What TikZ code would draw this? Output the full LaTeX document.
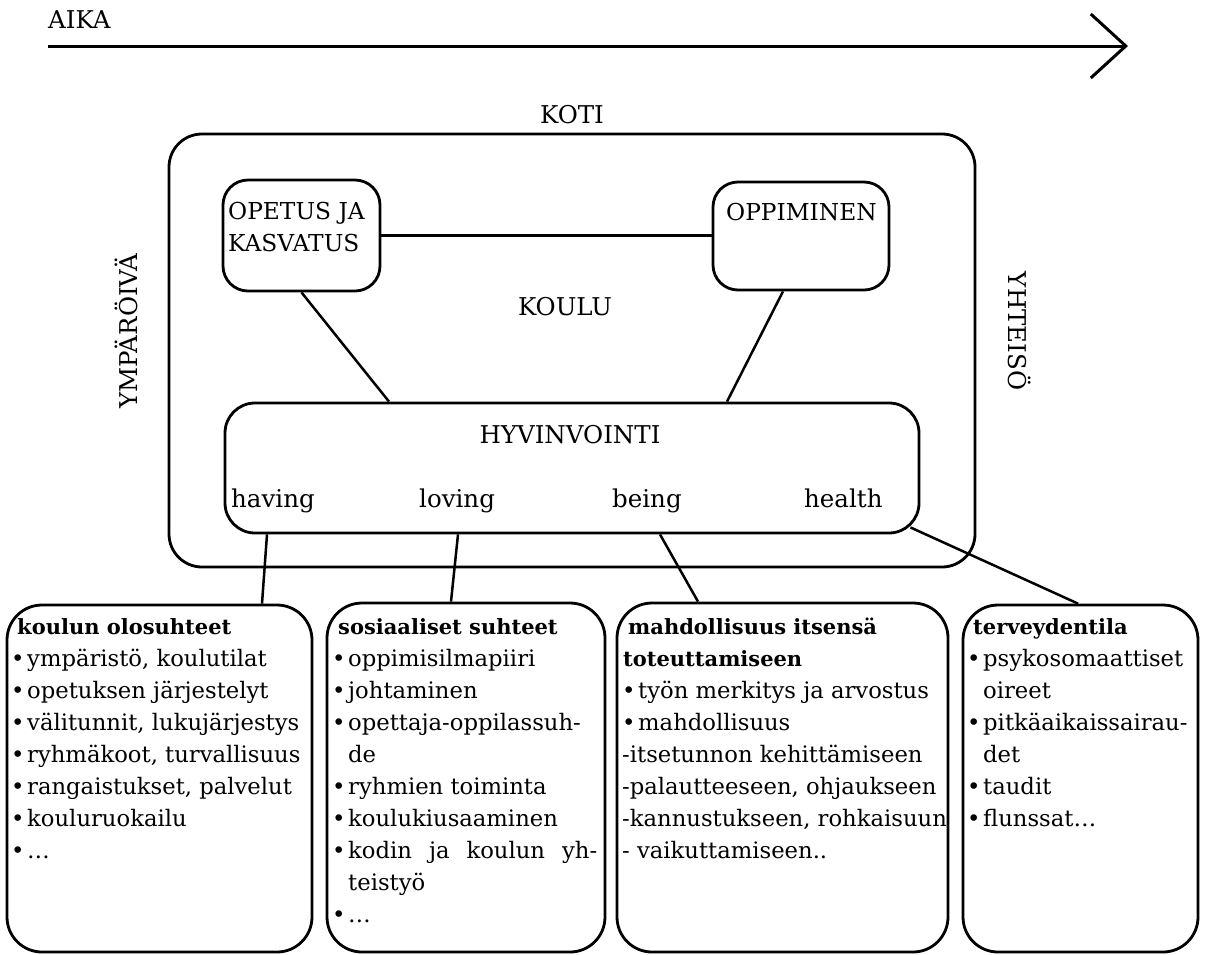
\documentclass[tikz,border=0pt]{standalone}
\usepackage{fontspec}
\setmainfont{DejaVu Serif}
\usetikzlibrary{arrows.meta,calc}
\newcommand\bul{\makebox[16pt][l]{\textbullet}}
\newcommand\ind{\hspace*{16pt}}
\tikzset{
  rbox/.style={draw, line width=2.8pt, rectangle, inner sep=0pt},
  conn/.style={line width=2.5pt},
  lbl/.style={inner sep=0pt, font=\fontsize{24.5}{32}\selectfont},
  lab/.style={lbl, anchor=base west},
  boxlab/.style={lab, font=\fontsize{23.3}{32}\selectfont},
  txt/.style={inner sep=0pt, anchor=base west, font=\fontsize{22.7}{32}\selectfont},
  ttl/.style={txt, font=\fontsize{21}{32}\selectfont\bfseries},
}
\begin{document}
\begin{tikzpicture}[x=1pt,y=-1pt]
\useasboundingbox (0,0) rectangle (1206,954);
\fill[white] (0,0) rectangle (1206,954);

% time axis
\node[lab] (aika) at (48,28) {AIKA};
\coordinate (t0) at (48,46);
\coordinate (t1) at (1128,46);
\draw[line width=3pt, -{Straight Barb[length=35pt,width=64pt]}] (t0) -- (t1);

% outer frame
\node[lbl, anchor=base] (kotit) at (572,123) {KOTI};
\node[rbox, rounded corners=33pt, minimum width=806pt, minimum height=433pt] (koti) at (572,350.5) {};
\node[lbl, rotate=90] (ymp) at (126,331) {YMPÄRÖIVÄ};
\node[lbl, rotate=-90] (yht) at (1020,331) {YHTEISÖ};
\node[lbl, anchor=base] (koulu) at (565,315) {KOULU};

% inner boxes
\node[rbox, rounded corners=25pt, minimum width=157pt, minimum height=111pt] (opetus) at (301.5,235.5) {};
\node[boxlab] (opet1) at (228,219) {OPETUS JA};
\node[boxlab] (opet2) at (228,251) {KASVATUS};
\node[rbox, rounded corners=25pt, minimum width=176pt, minimum height=108pt] (oppi) at (801,236) {};
\node[boxlab] (oppit) at (726,220) {OPPIMINEN};
\node[rbox, rounded corners=30pt, minimum width=694pt, minimum height=130pt] (hyv) at (572,468) {};
\node[lbl, anchor=base] (hyvt) at (570,443) {HYVINVOINTI};
\node[lab] (having) at (231,507) {having};
\node[lab] (loving) at (419,507) {loving};
\node[lab] (being) at (612,507) {being};
\node[lab] (health) at (804,507) {health};

% bottom boxes
\node[rbox, rounded corners=35pt, minimum width=305pt, minimum height=347pt] (b1) at (159.5,778.5) {};
\node[rbox, rounded corners=35pt, minimum width=278pt, minimum height=349pt] (b2) at (466,777.5) {};
\node[rbox, rounded corners=35pt, minimum width=331pt, minimum height=349pt] (b3) at (782.5,777.5) {};
\node[rbox, rounded corners=35pt, minimum width=235pt, minimum height=347pt] (b4) at (1080.5,778.5) {};

% connectors
\draw[conn] (opetus.east) -- (oppi.west |- opetus.east);
\draw[conn] (opetus.south) -- (hyv.north -| 389,0);
\draw[conn] (oppi.south -| 783,0) -- (hyv.north -| 727,0);
\draw[conn] (hyv.south -| 267,0) -- (b1.north -| 262,0);
\draw[conn] (hyv.south -| 458,0) -- (b2.north -| 451,0);
\draw[conn] (hyv.south -| 660,0) -- (b3.north -| 698,0);
\draw[conn] ($(hyv.south east)+(-10,-7)$) -- (b4.north -| 1078,0);

% box 1 text
\node[ttl] (b1t) at (17,634) {koulun olosuhteet};
\foreach \t [count=\i] in {{ympäristö, koulutilat},{opetuksen järjestelyt},{välitunnit, lukujärjestys},{ryhmäkoot, turvallisuus},{rangaistukset, palvelut},{kouluruokailu},{\ldots}}
  \node[txt] (b1l\i) at (11,634+32*\i) {\bul\t};

% box 2 text
\node[ttl] (b2t) at (338,634) {sosiaaliset suhteet};
\foreach \t [count=\i] in {{\bul oppimisilmapiiri},{\bul johtaminen},{\bul opettaja-oppilassuh-},{\ind de},{\bul ryhmien toiminta},{\bul koulukiusaaminen},{\bul\hbox to 249pt{kodin\hfill ja\hfill koulun\hfill yh-}},{\ind teistyö},{\bul\ldots}}
  \node[txt] (b2l\i) at (332,634+32*\i) {\t};

% box 3 text
\node[ttl] (b3t) at (628,634) {mahdollisuus itsensä};
\node[ttl] (b3u) at (623,666) {toteuttamiseen};
\foreach \t [count=\i] in {{\bul työn merkitys ja arvostus},{\bul mahdollisuus},{-itsetunnon kehittämiseen},{-palautteeseen, ohjaukseen},{-kannustukseen, rohkaisuun},{- vaikuttamiseen..}}
  \node[txt] (b3l\i) at (622,666+32*\i) {\t};

% box 4 text
\node[ttl] (b4t) at (973,634) {terveydentila};
\foreach \t [count=\i] in {{\bul psykosomaattiset},{\ind oireet},{\bul pitkäaikaissairau-},{\ind det},{\bul taudit},{\bul flunssat\ldots}}
  \node[txt] (b4l\i) at (967,634+32*\i) {\t};
\end{tikzpicture}
\end{document}
